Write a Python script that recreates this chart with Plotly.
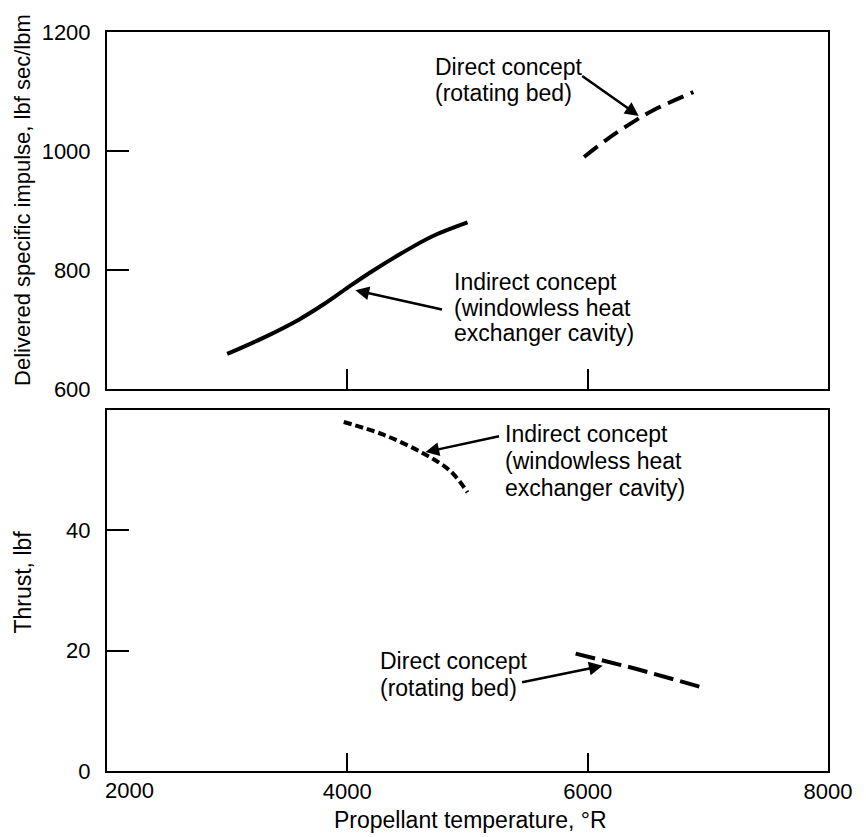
import plotly.graph_objects as go

# Propellant temperature (deg R) vs delivered specific impulse (lbf sec/lbm)
temp_isp_indirect = [3000, 3300, 3600, 3800, 4000, 4200, 4450, 4700, 5000]
isp_indirect = [659, 686, 717, 742, 770, 797, 828, 856, 880]

temp_isp_direct = [5970, 6150, 6340, 6550, 6880]
isp_direct = [990, 1018, 1044, 1069, 1099]

# Propellant temperature (deg R) vs thrust (lbf)
temp_thrust_indirect = [3970, 4300, 4630, 4860, 5000]
thrust_indirect = [58.0, 55.9, 52.8, 49.8, 46.3]

temp_thrust_direct = [5900, 6400, 6970]
thrust_direct = [19.5, 17.0, 13.8]

x_ticks = [2000, 4000, 6000, 8000]
isp_ticks = [600, 800, 1000, 1200]
thrust_ticks = [0, 20, 40]

FONT = "Liberation Sans, Arial, Helvetica, sans-serif"

fig = go.Figure()

fig.add_trace(go.Scatter(x=temp_isp_indirect, y=isp_indirect, mode="lines",
                         line=dict(color="black", width=4, shape="spline"),
                         xaxis="x", yaxis="y"))
fig.add_trace(go.Scatter(x=temp_isp_direct, y=isp_direct, mode="lines",
                         line=dict(color="black", width=4, dash="17px,8px", shape="spline"),
                         xaxis="x", yaxis="y"))
fig.add_trace(go.Scatter(x=temp_thrust_indirect, y=thrust_indirect, mode="lines",
                         line=dict(color="black", width=4, dash="8px,4px", shape="spline"),
                         xaxis="x2", yaxis="y2"))
fig.add_trace(go.Scatter(x=temp_thrust_direct, y=thrust_direct, mode="lines",
                         line=dict(color="black", width=4, dash="20px,7px"),
                         xaxis="x2", yaxis="y2"))

axis_common = dict(showgrid=False, zeroline=False, showline=True, mirror=True,
                   linecolor="black", linewidth=2, ticks="inside", tickcolor="black",
                   tickwidth=2, tickfont=dict(family=FONT, size=22, color="black"))

# page body has an 8px margin, so the figure is a little smaller than the window
fig.update_layout(
    width=858, height=829,
    margin=dict(l=99, r=38, t=24, b=66),
    paper_bgcolor="white", plot_bgcolor="white",
    showlegend=False,
    font=dict(family=FONT, size=23, color="black"),
    xaxis=dict(axis_common, anchor="y", domain=[0, 1], range=[2000, 8000],
               tickvals=[4000, 6000], showticklabels=False, ticklen=20),
    yaxis=dict(axis_common, anchor="x", domain=[0.5169, 1], range=[600, 1200],
               tickvals=isp_ticks, ticklen=22, ticklabelstandoff=10),
    xaxis2=dict(axis_common, anchor="y2", domain=[0, 1], range=[2000, 8000],
                tickvals=x_ticks[1:], ticklen=18, matches="x"),
    yaxis2=dict(axis_common, anchor="x2", domain=[0, 0.4885], range=[0, 60],
                tickvals=thrust_ticks, ticklen=22, ticklabelstandoff=10),
)

annotations = []

# first x label sits right of the corner, clear of the "0"
annotations.append(dict(text=str(x_ticks[0]), x=x_ticks[0], xref="x2", y=0, yref="paper",
                        xanchor="left", yanchor="top", xshift=-4, yshift=-5,
                        showarrow=False, font=dict(size=22)))

# axis titles
annotations.append(dict(text="Delivered specific impulse, lbf sec/lbm", xref="paper", yref="paper",
                        x=-0.1165, y=0.7727, textangle=-90, showarrow=False,
                        xanchor="center", yanchor="middle", font=dict(size=22)))
annotations.append(dict(text="Thrust, lbf", xref="paper", yref="paper",
                        x=-0.1165, y=0.255, textangle=-90, showarrow=False,
                        xanchor="center", yanchor="middle"))
annotations.append(dict(text="Propellant temperature, °R", xref="paper", yref="paper",
                        x=0.5035, y=-0.066, showarrow=False,
                        xanchor="center", yanchor="middle"))


def label(lines, x, ys, xr, yr):
    for txt, yy in zip(lines, ys):
        annotations.append(dict(text=txt, x=x, y=yy, xref=xr, yref=yr, showarrow=False,
                                xanchor="left", yanchor="middle"))


def arrow(tip, tail, xr, yr):
    annotations.append(dict(text="", x=tip[0], y=tip[1], ax=tail[0], ay=tail[1],
                            xref=xr, yref=yr, axref=xr, ayref=yr, showarrow=True,
                            arrowhead=2, arrowsize=1.1, arrowwidth=2.5, arrowcolor="black",
                            standoff=0, startstandoff=0))


label(["Direct concept", "(rotating bed)"], 4717, [1141, 1097], "x", "y")
arrow((6425, 1059), (5942, 1128), "x", "y")

label(["Indirect concept", "(windowless heat", "exchanger cavity)"], 4875, [780, 736, 694], "x", "y")
arrow((4067, 766), (4800, 733), "x", "y")

label(["Indirect concept", "(windowless heat", "exchanger cavity)"], 5292, [56, 51.5, 47], "x2", "y2")
arrow((4650, 53), (5275, 55.7), "x2", "y2")

label(["Direct concept", "(rotating bed)"], 4258, [18.2, 13.8], "x2", "y2")
arrow((6125, 17.5), (5442, 14.7), "x2", "y2")

fig.update_layout(annotations=annotations)

fig.write_html("out.html")
